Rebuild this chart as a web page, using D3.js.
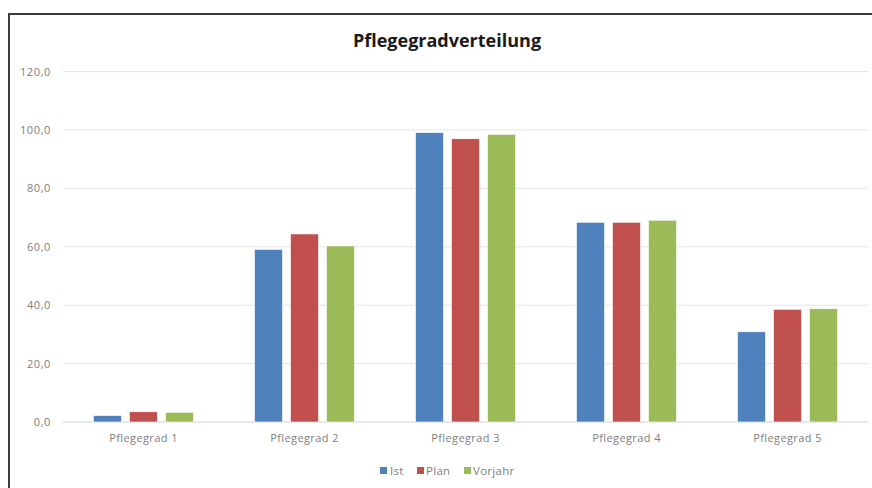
<!DOCTYPE html>
<html>
<head>
<meta charset="utf-8">
<script src="https://cdn.jsdelivr.net/npm/d3@7"></script>
<style>
  html, body { margin: 0; padding: 0; background: #fff; }
  svg { display: block; }
</style>
</head>
<body>
<svg id="chart" width="872" height="488"></svg>
<script>
const categories = ["Pflegegrad 1", "Pflegegrad 2", "Pflegegrad 3", "Pflegegrad 4", "Pflegegrad 5"];
const seriesNames = ["Ist", "Plan", "Vorjahr"];
const ist = [2.2, 59.1, 99.1, 68.4, 30.9];
const plan = [3.5, 64.4, 97.0, 68.4, 38.6];
const vorjahr = [3.3, 60.3, 98.5, 69.1, 38.8];
const yTicks = [0, 20, 40, 60, 80, 100, 120];
const colors = ["#4F81BD", "#C0504D", "#9BBB59"];
const title = "Pflegegradverteilung";

const seriesValues = [ist, plan, vorjahr];
const data = categories.map((c, i) => ({
  cat: c,
  vals: seriesNames.map((s, j) => ({ key: s, value: seriesValues[j][i], color: colors[j] }))
}));

const svg = d3.select("#chart");
const font = "'Open Sans', 'Liberation Sans', sans-serif";

// frame
svg.append("path")
  .attr("d", "M9,488 L9,14 L872,14")
  .attr("fill", "none")
  .attr("stroke", "#3a3a3a")
  .attr("stroke-width", 2);

const plot = { left: 63, right: 868, top: 71.6, bottom: 422 };

const x = d3.scaleBand().domain(categories).range([plot.left, plot.right]).paddingInner(0).paddingOuter(0);
const y = d3.scaleLinear().domain([0, 120]).range([plot.bottom, plot.top]);
const xInner = d3.scaleBand().domain(seriesNames).range([0, 100]).paddingInner(8 / 36);

// gridlines
svg.append("g").selectAll("line").data(yTicks).join("line")
  .attr("x1", plot.left).attr("x2", plot.right)
  .attr("y1", d => y(d)).attr("y2", d => y(d))
  .attr("stroke", d => d === 0 ? "#d0d0d0" : "#e4e4e4")
  .attr("stroke-width", 1);

// y axis labels
const yAxis = d3.axisLeft(y).tickValues(yTicks).tickSize(0).tickPadding(0)
  .tickFormat(d => d3.format(".1f")(d).replace(".", ","));
const yg = svg.append("g").attr("transform", `translate(51,0)`).call(yAxis);
yg.select(".domain").remove();
yg.selectAll("text").attr("fill", "#808080").style("font-family", font)
  .style("font-size", "11px").style("letter-spacing", "0.6px");

// x axis labels
const xAxis = d3.axisBottom(x).tickSize(0).tickPadding(0);
const xg = svg.append("g").attr("transform", `translate(0,${plot.bottom + 12})`).call(xAxis);
xg.select(".domain").remove();
xg.selectAll("text").attr("fill", "#808080").style("font-family", font)
  .style("font-size", "11px").style("letter-spacing", "0.4px");

// bars
const groups = svg.append("g").selectAll("g").data(data).join("g")
  .attr("transform", d => `translate(${x(d.cat) + x.bandwidth() / 2 - 50},0)`);
groups.selectAll("rect").data(d => d.vals).join("rect")
  .attr("x", d => xInner(d.key))
  .attr("width", xInner.bandwidth())
  .attr("y", d => y(d.value))
  .attr("height", d => y(0) - y(d.value))
  .attr("fill", d => d.color)
  .attr("stroke", "#ffffff")
  .attr("stroke-width", 0.6);

// title
svg.append("text")
  .attr("x", 447).attr("y", 47)
  .attr("text-anchor", "middle")
  .style("font-family", font)
  .style("font-weight", "bold")
  .style("font-size", "18px")
  .attr("fill", "#1a1a1a")
  .text(title);

// legend
const legendItems = [
  { name: "Ist", sx: 380, tx: 390 },
  { name: "Plan", sx: 417, tx: 426 },
  { name: "Vorjahr", sx: 464, tx: 473 }
];
const lg = svg.append("g");
legendItems.forEach((it, i) => {
  lg.append("rect").attr("x", it.sx).attr("y", 467).attr("width", 7).attr("height", 7).attr("fill", colors[i]);
  lg.append("text").attr("x", it.tx).attr("y", 475)
    .style("font-family", font).style("font-size", "11.5px").style("letter-spacing", "0.3px")
    .attr("fill", "#808080")
    .text(seriesNames[i]);
});
</script>
</body>
</html>
